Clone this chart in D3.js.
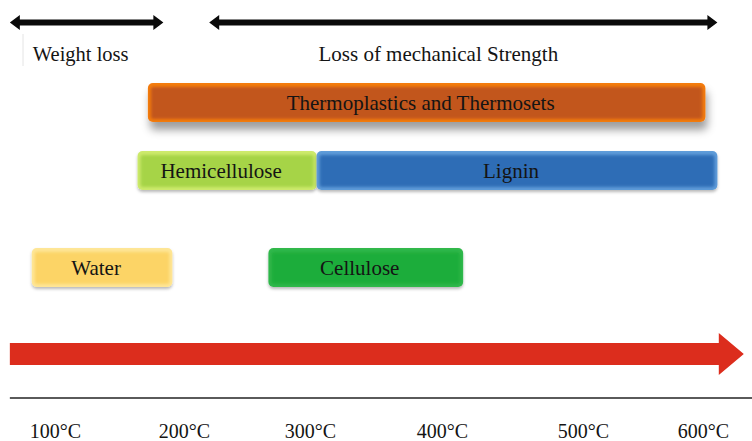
<!DOCTYPE html>
<html>
<head>
<meta charset="utf-8">
<script src="https://cdn.jsdelivr.net/npm/d3@7"></script>
<style>
  html, body { margin: 0; padding: 0; background: #fff; }
  svg { display: block; }
  text { font-family: "Liberation Serif", "DejaVu Serif", serif; fill: #141414; }
</style>
</head>
<body>
<div id="chart"></div>
<script>
// ---------- DATA ----------
const tickValues = [100, 200, 300, 400, 500, 600];
const tickLabels = ["100°C", "200°C", "300°C", "400°C", "500°C", "600°C"];

const barNames  = ["Thermoplastics and Thermosets", "Hemicellulose", "Lignin", "Water", "Cellulose"];
const barStart  = [172, 164, 305, 82, 267];
const barEnd    = [602, 305, 612, 191, 415];
const barRow    = [0, 1, 1, 2, 2];

const rangeNames = ["Weight loss", "Loss of mechanical Strength"];
const rangeStart = [65, 220];
const rangeEnd   = [184, 612];

const heatStart = 65;   // red temperature arrow
const heatEnd   = 634;

// ---------- LAYOUT / STYLE ----------
const W = 752, H = 441;
const tickPos = [55, 184, 310, 442, 583, 703];
const rowTops = [83, 151, 248];
const barH = 39;
const barStyles = [
  { edge: "#f47c0e", body: "#c2571b", shadow: "big" },
  { edge: "#cdea6c", body: "#a6d446", shadow: "small" },
  { edge: "#5e9cd9", body: "#2f6db6", shadow: "small" },
  { edge: "#fee696", body: "#fcd466", shadow: "small" },
  { edge: "#30b84c", body: "#1bad3b", shadow: "small" }
];

const x = d3.scaleLinear().domain(tickValues).range(tickPos);
const y = d3.scaleOrdinal().domain([0, 1, 2]).range(rowTops);

const svg = d3.select("#chart").append("svg")
  .attr("width", W).attr("height", H)
  .attr("viewBox", `0 0 ${W} ${H}`);

svg.append("rect").attr("width", W).attr("height", H).attr("fill", "#fff");

const defs = svg.append("defs");
const fBig = defs.append("filter").attr("id", "shBig")
  .attr("x", "-10%").attr("y", "-30%").attr("width", "120%").attr("height", "190%");
fBig.append("feDropShadow").attr("dx", 2).attr("dy", 8).attr("stdDeviation", 4.5)
  .attr("flood-color", "#000").attr("flood-opacity", 0.38);
const fSmall = defs.append("filter").attr("id", "shSmall")
  .attr("x", "-10%").attr("y", "-30%").attr("width", "120%").attr("height", "180%");
fSmall.append("feDropShadow").attr("dx", 0).attr("dy", 2).attr("stdDeviation", 1.5)
  .attr("flood-color", "#000").attr("flood-opacity", 0.28);
const fSoft = defs.append("filter").attr("id", "soft");
fSoft.append("feGaussianBlur").attr("stdDeviation", 1.6);

// ---------- TOP RANGE ARROWS ----------
const arrowY = 22.5, shaft = 6, headH = 15, headL = 10;
function dblArrow(x1, x2) {
  const p = d3.path();
  p.moveTo(x1, arrowY);
  p.lineTo(x1 + headL, arrowY - headH / 2);
  p.lineTo(x1 + headL, arrowY - shaft / 2);
  p.lineTo(x2 - headL, arrowY - shaft / 2);
  p.lineTo(x2 - headL, arrowY - headH / 2);
  p.lineTo(x2, arrowY);
  p.lineTo(x2 - headL, arrowY + headH / 2);
  p.lineTo(x2 - headL, arrowY + shaft / 2);
  p.lineTo(x1 + headL, arrowY + shaft / 2);
  p.lineTo(x1 + headL, arrowY + headH / 2);
  p.closePath();
  return p.toString();
}
const ranges = rangeNames.map((n, i) => ({ name: n, s: rangeStart[i], e: rangeEnd[i] }));
svg.selectAll("path.range").data(ranges).join("path")
  .attr("class", "range")
  .attr("d", d => dblArrow(x(d.s), x(d.e)))
  .attr("fill", "#0a0a0a");

svg.append("line").attr("x1", 23).attr("x2", 23).attr("y1", 34).attr("y2", 66)
  .attr("stroke", "#e4e4e4").attr("stroke-width", 1);

svg.append("text").attr("x", x(rangeStart[0]) + 23).attr("y", 61)
  .attr("font-size", 20.5).text(rangeNames[0]);
svg.append("text").attr("x", (x(rangeStart[1]) + x(rangeEnd[1])) / 2 - 25).attr("y", 61)
  .attr("text-anchor", "middle").attr("font-size", 21).text(rangeNames[1]);

// ---------- BARS ----------
const bars = barNames.map((n, i) => ({ name: n, s: barStart[i], e: barEnd[i], row: barRow[i], st: barStyles[i] }));
const g = svg.selectAll("g.bar").data(bars).join("g").attr("class", "bar");

g.append("rect")
  .attr("x", d => x(d.s)).attr("y", d => y(d.row))
  .attr("width", d => x(d.e) - x(d.s)).attr("height", barH)
  .attr("rx", 5).attr("ry", 5)
  .attr("fill", d => d.st.edge)
  .attr("filter", d => d.st.shadow === "big" ? "url(#shBig)" : "url(#shSmall)");

g.append("rect")
  .attr("x", d => x(d.s) + 3).attr("y", d => y(d.row) + 4)
  .attr("width", d => x(d.e) - x(d.s) - 6).attr("height", barH - 7)
  .attr("rx", 2).attr("ry", 2)
  .attr("fill", d => d.st.body)
  .attr("filter", "url(#soft)");

g.append("text")
  .attr("x", d => (x(d.s) + x(d.e)) / 2 - 6)
  .attr("y", d => y(d.row) + barH / 2 + 7.5)
  .attr("text-anchor", "middle")
  .attr("font-size", 21)
  .text(d => d.name);

// ---------- RED TEMPERATURE ARROW ----------
const hx1 = x(heatStart), hx2 = x(heatEnd);
const hy = 354, bodyH = 22, hHead = 42, lHead = 25;
const hp = d3.path();
hp.moveTo(hx1, hy - bodyH / 2);
hp.lineTo(hx2 - lHead, hy - bodyH / 2);
hp.lineTo(hx2 - lHead, hy - hHead / 2);
hp.lineTo(hx2, hy);
hp.lineTo(hx2 - lHead, hy + hHead / 2);
hp.lineTo(hx2 - lHead, hy + bodyH / 2);
hp.lineTo(hx1, hy + bodyH / 2);
hp.closePath();
svg.append("path").attr("d", hp.toString()).attr("fill", "#dc2d1d");

// ---------- AXIS ----------
svg.append("line")
  .attr("x1", x(heatStart)).attr("x2", W)
  .attr("y1", 398).attr("y2", 398)
  .attr("stroke", "#5a5a5a").attr("stroke-width", 2);

const axis = d3.axisBottom(x).tickValues(tickValues)
  .tickFormat((d, i) => tickLabels[i]).tickSize(0);
const ag = svg.append("g").attr("transform", "translate(0,398)").call(axis);
ag.select(".domain").remove();
ag.selectAll("text")
  .attr("y", 40).attr("dy", 0)
  .attr("font-size", 20)
  .style("font-family", '"Liberation Serif", "DejaVu Serif", serif')
  .attr("fill", "#141414");
</script>
</body>
</html>
